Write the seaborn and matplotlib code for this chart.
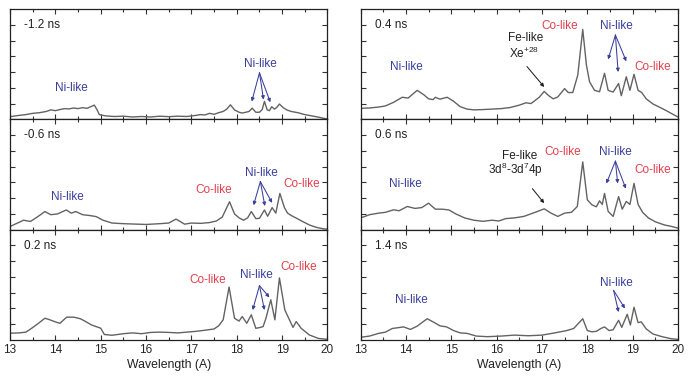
import numpy as np
import pandas as pd
import matplotlib
matplotlib.use("Agg")
import matplotlib.pyplot as plt
import seaborn as sns

# ---------------- data ----------------
DELAYS = ["-1.2 ns", "-0.6 ns", "0.2 ns", "0.4 ns", "0.6 ns", "1.4 ns"]

WL_m12 = [13.0, 13.2, 13.35, 13.5, 13.65, 13.8, 13.9, 14.0, 14.1, 14.2, 14.3, 14.4, 14.5, 14.6, 14.7,
          14.78, 14.86, 14.92, 14.97, 15.1, 15.3, 15.5, 15.7, 15.9, 16.1, 16.3, 16.5, 16.7, 16.9, 17.1,
          17.2, 17.3, 17.4, 17.5, 17.6, 17.7, 17.78, 17.86, 17.95, 18.05, 18.12, 18.2, 18.27, 18.34,
          18.42, 18.5, 18.56, 18.61, 18.67, 18.72, 18.77, 18.83, 18.88, 18.94, 19.02, 19.1, 19.2, 19.35,
          19.5, 19.65, 19.8, 19.94, 20.0]
I_m12 = [0.17, 0.25, 0.3, 0.38, 0.42, 0.5, 0.6, 0.55, 0.62, 0.68, 0.66, 0.72, 0.68, 0.74, 0.7,
         0.8, 0.9, 0.6, 0.3, 0.22, 0.18, 0.2, 0.15, 0.18, 0.15, 0.2, 0.17, 0.2, 0.18, 0.25,
         0.3, 0.28, 0.38, 0.32, 0.42, 0.5, 0.65, 0.92, 0.6, 0.45, 0.4, 0.45, 0.5, 0.71,
         0.45, 0.45, 0.62, 1.14, 0.6, 0.55, 0.8, 0.65, 0.75, 0.97, 0.75, 0.6, 0.5, 0.42,
         0.3, 0.22, 0.14, 0.05, 0.03]

WL_m06 = [13.0, 13.15, 13.3, 13.45, 13.6, 13.77, 13.9, 14.05, 14.24, 14.35, 14.45, 14.6, 14.75, 14.9,
          15.05, 15.25, 15.5, 15.8, 16.0, 16.3, 16.5, 16.66, 16.85, 17.0, 17.2, 17.4, 17.55, 17.68,
          17.84, 17.95, 18.05, 18.15, 18.24, 18.32, 18.42, 18.5, 18.61, 18.68, 18.78, 18.86, 18.95,
          19.05, 19.12, 19.2, 19.3, 19.45, 19.6, 19.75, 19.9, 20.0]
I_m06 = [0.2, 0.4, 0.6, 0.52, 0.8, 1.15, 0.95, 1.0, 1.25, 1.05, 1.15, 0.95, 0.9, 0.83,
         0.6, 0.42, 0.38, 0.35, 0.33, 0.38, 0.42, 0.67, 0.35, 0.42, 0.4, 0.45, 0.55, 0.8,
         1.77, 1.0, 0.75, 0.6, 0.75, 1.15, 0.7, 0.72, 1.25, 0.85, 1.4, 1.05, 2.3,
         1.4, 1.05, 0.9, 0.75, 0.52, 0.3, 0.15, 0.06, 0.03]

WL_p02 = [13.0, 13.2, 13.35, 13.48, 13.6, 13.77, 13.88, 14.0, 14.1, 14.25, 14.4, 14.55, 14.65, 14.8,
          14.9, 15.0, 15.08, 15.25, 15.5, 15.7, 15.9, 16.1, 16.3, 16.5, 16.7, 16.9, 17.1, 17.3, 17.5,
          17.6, 17.7, 17.83, 17.95, 18.05, 18.12, 18.22, 18.32, 18.42, 18.52, 18.58, 18.64, 18.75,
          18.84, 18.94, 19.06, 19.15, 19.24, 19.31, 19.42, 19.6, 19.8, 20.0]
I_p02 = [0.43, 0.45, 0.5, 0.75, 1.0, 1.38, 1.28, 1.15, 1.06, 1.45, 1.45, 1.35, 1.2, 0.95,
         0.85, 0.75, 0.35, 0.3, 0.4, 0.45, 0.4, 0.48, 0.5, 0.48, 0.45, 0.5, 0.55, 0.62, 0.7,
         0.9, 1.28, 3.36, 1.38, 1.2, 1.49, 1.06, 1.6, 0.74, 0.8, 0.85, 1.35, 2.55,
         1.28, 3.94, 1.9, 1.35, 0.8, 1.17, 0.74, 0.32, 0.1, 0.04]

WL_p04 = [13.0, 13.2, 13.4, 13.55, 13.73, 13.92, 14.05, 14.25, 14.4, 14.5, 14.6, 14.65, 14.75, 14.91,
          15.05, 15.2, 15.35, 15.5, 15.7, 15.9, 16.1, 16.3, 16.5, 16.65, 16.76, 16.94, 17.05, 17.15,
          17.25, 17.35, 17.5, 17.58, 17.68, 17.79, 17.9, 17.98, 18.05, 18.16, 18.27, 18.38, 18.46,
          18.57, 18.69, 18.75, 18.86, 18.94, 19.03, 19.12, 19.2, 19.3, 19.45, 19.6, 19.75, 19.9, 20.0]
I_p04 = [0.7, 0.72, 0.78, 0.85, 1.08, 1.4, 1.35, 1.84, 1.55, 1.3, 1.25, 1.4, 1.28, 1.4,
         1.15, 0.8, 0.65, 0.6, 0.62, 0.65, 0.68, 0.75, 0.9, 1.05, 1.0, 1.4, 1.77, 1.5,
         1.3, 1.42, 1.95, 1.7, 1.7, 2.8, 5.7, 3.46, 2.38, 1.84, 1.75, 2.92, 1.84,
         1.73, 2.27, 1.5, 2.7, 1.84, 2.86, 1.84, 1.7, 1.3, 0.97, 0.76, 0.54, 0.3, 0.15]

WL_p06 = [13.0, 13.2, 13.4, 13.55, 13.73, 13.85, 14.03, 14.2, 14.35, 14.5, 14.65, 14.8, 14.95, 15.1,
          15.3, 15.5, 15.7, 15.9, 16.05, 16.2, 16.4, 16.6, 16.85, 17.05, 17.2, 17.35, 17.5, 17.65,
          17.78, 17.9, 18.0, 18.1, 18.2, 18.27, 18.33, 18.38, 18.46, 18.57, 18.69, 18.77, 18.86,
          18.94, 19.03, 19.12, 19.22, 19.35, 19.5, 19.7, 19.85, 20.0]
I_p06 = [0.74, 0.95, 1.05, 1.1, 1.26, 1.2, 1.47, 1.35, 1.4, 1.68, 1.3, 1.3, 1.25, 1.0,
         0.74, 0.6, 0.53, 0.6, 0.55, 0.7, 0.75, 0.84, 1.1, 1.32, 1.05, 0.84, 1.05, 1.1,
         1.47, 4.3, 1.9, 1.58, 1.45, 1.83, 1.6, 2.3, 1.16, 0.84, 2.1, 1.3, 1.79,
         1.6, 2.94, 1.6, 1.1, 0.74, 0.5, 0.3, 0.21, 0.1]

WL_p14 = [13.0, 13.2, 13.4, 13.55, 13.7, 13.95, 14.1, 14.25, 14.47, 14.6, 14.75, 14.9, 15.05, 15.2,
          15.35, 15.55, 15.8, 16.1, 16.4, 16.7, 17.0, 17.3, 17.55, 17.7, 17.9, 18.0, 18.1, 18.2, 18.3,
          18.38, 18.48, 18.57, 18.69, 18.76, 18.88, 18.95, 19.03, 19.12, 19.19, 19.3, 19.45, 19.65,
          19.85, 20.0]
I_p14 = [0.17, 0.25, 0.42, 0.5, 0.73, 0.83, 0.67, 0.88, 1.35, 1.15, 0.9, 0.83, 0.6, 0.45,
         0.42, 0.25, 0.21, 0.25, 0.31, 0.27, 0.31, 0.46, 0.6, 0.73, 1.35, 0.6, 0.52, 0.55, 0.73,
         0.83, 0.6, 0.65, 1.25, 0.8, 1.63, 0.95, 2.08, 1.1, 1.15, 0.7, 0.38, 0.21,
         0.08, 0.04]

X_TICKS = [13, 14, 15, 16, 17, 18, 19, 20]

# ---------------- styling ----------------
sns.set_style("ticks")
plt.rcParams['font.family'] = ['Liberation Sans', 'DejaVu Sans']
plt.rcParams['mathtext.default'] = 'regular'

BLUE = "#3a3f9c"
RED = "#e3404c"
LINE = "#636363"

frames = []
for d, wl, it in zip(DELAYS,
                     [WL_m12, WL_m06, WL_p02, WL_p04, WL_p06, WL_p14],
                     [I_m12, I_m06, I_p02, I_p04, I_p06, I_p14]):
    frames.append(pd.DataFrame({"wavelength": wl, "intensity": it, "delay": d}))
df = pd.concat(frames, ignore_index=True)

fig = plt.figure(figsize=(6.89, 3.81), dpi=100)
gs = fig.add_gridspec(3, 2, left=10/689, right=678/689, top=1-9/381, bottom=1-340/381,
                      hspace=0.0, wspace=0.104)
axes = [[fig.add_subplot(gs[r, c]) for c in range(2)] for r in range(3)]
order = [axes[0][0], axes[1][0], axes[2][0], axes[0][1], axes[1][1], axes[2][1]]

for ax, d in zip(order, DELAYS):
    sub = df[df["delay"] == d]
    sns.lineplot(data=sub, x="wavelength", y="intensity", ax=ax, color=LINE,
                 linewidth=1.0, sort=False, estimator=None)
    ax.set_xlim(13, 20)
    ax.set_ylim(0, 7)
    ax.set_xticks(X_TICKS)
    ax.set_xticks(np.arange(13.5, 20, 1.0), minor=True)
    ax.set_yticks(range(1, 7))
    ax.set_yticklabels([])
    ax.tick_params(axis="both", which="both", direction="in", top=True, right=True,
                   labelsize=8.5, pad=3, width=0.8, color="#333")
    ax.tick_params(axis="both", which="major", length=3.5)
    ax.tick_params(axis="x", which="minor", length=2)
    ax.set_ylabel("")
    ax.set_xlabel("")
    for s in ax.spines.values():
        s.set_linewidth(0.9)
        s.set_color("#222")
    ax.text(0.045, 0.855, d, transform=ax.transAxes, fontsize=8.5, ha="left", va="center",
            color="#222")

for r in range(2):
    for c in range(2):
        axes[r][c].set_xticklabels([])
for c in range(2):
    axes[2][c].set_xlabel("Wavelength (A)", fontsize=8.8, labelpad=2, color="#222")

FS = 8.5


def label(ax, x, y, s, color):
    ax.text(x, y, s, color=color, fontsize=FS, ha="center", va="center")


def arrows(ax, start, ends, color):
    for e in ends:
        ax.annotate("", xy=e, xytext=start,
                    arrowprops=dict(arrowstyle="-|>", color=color, lw=0.75,
                                    mutation_scale=5, shrinkA=0, shrinkB=0))


# -1.2 ns
ax = axes[0][0]
label(ax, 14.36, 1.96, "Ni-like", BLUE)
label(ax, 18.53, 3.48, "Ni-like", BLUE)
arrows(ax, (18.5, 2.95), [(18.33, 1.13), (18.59, 1.25), (18.74, 1.08)], BLUE)

# -0.6 ns
ax = axes[1][0]
label(ax, 14.27, 2.06, "Ni-like", BLUE)
label(ax, 17.5, 2.5, "Co-like", RED)
label(ax, 18.55, 3.6, "Ni-like", BLUE)
label(ax, 19.43, 2.9, "Co-like", RED)
arrows(ax, (18.52, 3.05), [(18.37, 1.55), (18.62, 1.5), (18.78, 1.7)], BLUE)

# 0.2 ns
ax = axes[2][0]
label(ax, 17.35, 3.8, "Co-like", RED)
label(ax, 18.44, 4.1, "Ni-like", BLUE)
label(ax, 19.37, 4.6, "Co-like", RED)
arrows(ax, (18.5, 3.45), [(18.35, 1.9), (18.61, 1.9), (18.72, 2.7)], BLUE)

# 0.4 ns
ax = axes[0][1]
label(ax, 14.02, 3.35, "Ni-like", BLUE)
label(ax, 16.65, 5.17, "Fe-like", "#222")
label(ax, 16.6, 4.2, r"Xe$^{+28}$", "#222")
arrows(ax, (16.67, 3.35), [(17.05, 2.05)], "#222")
label(ax, 17.4, 5.95, "Co-like", RED)
label(ax, 18.65, 5.95, "Ni-like", BLUE)
label(ax, 19.45, 3.35, "Co-like", RED)
arrows(ax, (18.62, 5.35), [(18.46, 3.8), (18.68, 3.0), (18.86, 3.68)], BLUE)

# 0.6 ns
ax = axes[1][1]
label(ax, 14.0, 2.9, "Ni-like", BLUE)
label(ax, 16.5, 4.7, "Fe-like", "#222")
label(ax, 16.42, 3.8, r"3d$^8$-3d$^7$4p", "#222")
arrows(ax, (16.79, 2.6), [(17.05, 1.68)], "#222")
label(ax, 17.45, 4.9, "Co-like", RED)
label(ax, 18.63, 4.9, "Ni-like", BLUE)
label(ax, 19.45, 3.8, "Co-like", RED)
arrows(ax, (18.62, 4.35), [(18.42, 2.93), (18.67, 2.93), (18.85, 2.6)], BLUE)

# 1.4 ns
ax = axes[2][1]
label(ax, 14.13, 2.56, "Ni-like", BLUE)
label(ax, 18.65, 3.6, "Ni-like", BLUE)
arrows(ax, (18.58, 3.15), [(18.69, 1.77), (18.83, 2.0)], BLUE)

fig.savefig("out.png", dpi=100)
